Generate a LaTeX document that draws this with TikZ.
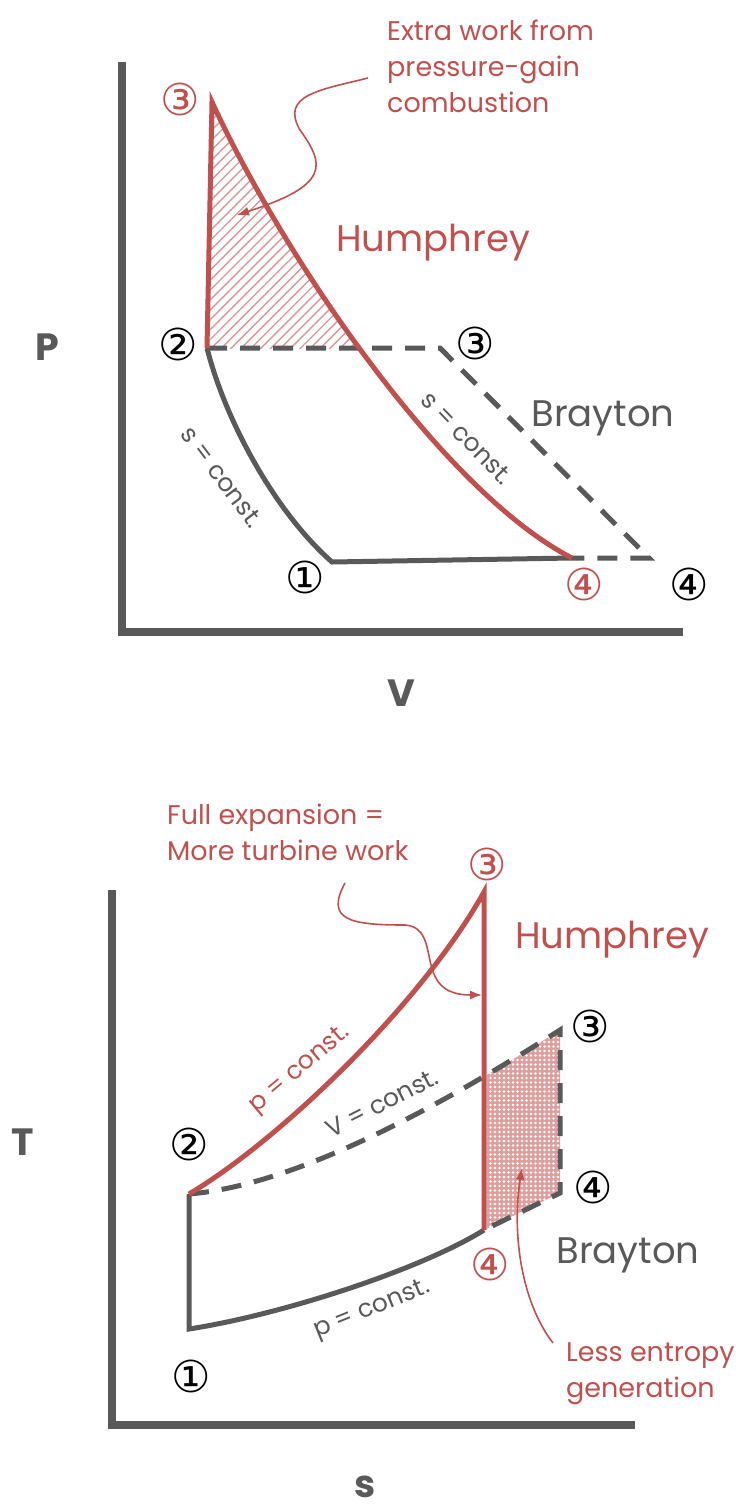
\documentclass[tikz,border=0pt]{standalone}
\usepackage{fontspec}
\setmainfont{Poppins}
\newfontfamily\circfont{DejaVu Sans}
\usepackage{xcolor}
\usetikzlibrary{arrows.meta, patterns.meta}
\definecolor{humred}{RGB}{192,80,77}
\definecolor{braygray}{RGB}{89,89,89}

\begin{document}
\begin{tikzpicture}[x=1pt, y=-1pt,
  axisline/.style={line width=8pt, braygray},
  humline/.style={line width=5pt, humred},
  brayline/.style={line width=5pt, braygray},
  braydash/.style={line width=5pt, braygray, dash pattern=on 20pt off 13pt},
  note/.style={humred, font=\fontsize{27}{36}\selectfont, align=left, anchor=west, inner sep=0pt},
  notearrow/.style={humred, line width=1.6pt, -{Latex[length=12pt,width=9pt]}},
  statenum/.style={font=\circfont\fontsize{44}{44}\selectfont, inner sep=0pt},
  cyclename/.style={font=\fontsize{37}{40}\selectfont},
  curvelabel/.style={font=\fontsize{25}{25}\selectfont, braygray, inner sep=0pt},
  axislabel/.style={font=\bfseries\fontsize{38}{38}\selectfont, braygray}]
  \useasboundingbox (0,0) rectangle (736,1510);

  % ----- Top: P-V diagram -----
  \coordinate (pv1) at (332,562);
  \coordinate (pv2) at (207,348);
  \coordinate (pv3h) at (212,102);
  \coordinate (pv4h) at (572,558);
  \coordinate (pv3b) at (440,348);
  \coordinate (pv4b) at (649,558);

  % Extra work area (hatched)
  \begin{scope}
    \clip (0,0) rectangle (736,348);
    \fill[pattern={Lines[angle=45, distance=7pt, line width=1.4pt]}, pattern color=humred!60]
      (pv2) -- (pv3h) .. controls (280,250) and (440,490) .. (pv4h) -- cycle;
  \end{scope}

  % Axes
  \draw[axisline] (122,62) -- (122,632) -- (683,632);

  % Brayton (dashed) and shared legs
  \draw[braydash] (pv2) -- (pv3b) -- (pv4b) -- (pv4h);
  \draw[brayline] (pv2) .. controls (225,420) and (275,512) .. (pv1) -- (pv4h);

  % Humphrey
  \draw[humline] (pv2) -- (pv3h) .. controls (280,250) and (440,490) .. (pv4h);

  \node[statenum, humred] (pvlbl3h) at (180,99) {③};
  \node[statenum] (pvlbl2) at (178,344) {②};
  \node[statenum] (pvlbl3b) at (475,343) {③};
  \node[statenum] (pvlbl1) at (305,577) {①};
  \node[statenum, humred] (pvlbl4h) at (584,584) {④};
  \node[statenum] (pvlbl4b) at (689,584) {④};

  \node[cyclename, humred] (pvhum) at (433,243) {Humphrey};
  \node[cyclename, braygray] (pvbray) at (603,418) {Brayton};
  \node[curvelabel, rotate=-53] (pvisen12) at (222,477) {s = const.};
  \node[curvelabel, rotate=-46] (pvisen34) at (467,438) {s = const.};
  \node[axislabel] (plabel) at (47,347) {P};
  \node[axislabel] (vlabel) at (401,693) {V};

  \node[note] (extrawork) at (387,66) {Extra work from\\pressure-gain\\combustion};
  \coordinate (extrastart) at (368,78);
  \coordinate (extratip) at (237,215);
  \draw[notearrow] (extrastart) .. controls (320,90) and (280,95) .. (300,130)
    .. controls (325,165) and (330,185) .. (extratip);

  % ----- Bottom: T-s diagram -----
  \coordinate (ts1) at (189,1329);
  \coordinate (ts2) at (189,1194);
  \coordinate (ts3h) at (484,892);
  \coordinate (ts4h) at (484,1230);
  \coordinate (ts3b) at (560,1030);
  \coordinate (ts4b) at (560,1193);

  % Less entropy area (dotted)
  \begin{scope}
    \clip (487,0) rectangle (560,1510);
    \fill[humred!55] (ts2) .. controls (300,1185) and (450,1100) .. (ts3b) -- (ts4b) -- (ts4h) -- (189,1240) -- cycle;
    \fill[pattern={Dots[radius=1.3pt, distance=4.5pt]}, pattern color=white]
      (ts2) .. controls (300,1185) and (450,1100) .. (ts3b) -- (ts4b) -- (ts4h) -- (189,1240) -- cycle;
  \end{scope}

  % Axes
  \draw[axisline] (112,890) -- (112,1425) -- (635,1425);

  % Brayton (dashed) and shared legs
  \draw[braydash] (ts2) .. controls (300,1185) and (450,1100) .. (ts3b) -- (ts4b) -- (ts4h);
  \draw[brayline] (ts2) -- (ts1) .. controls (280,1315) and (420,1270) .. (ts4h);

  % Humphrey
  \draw[humline] (ts2) .. controls (280,1140) and (422,1003) .. (ts3h) -- (ts4h);

  \node[statenum, humred] (tslbl3h) at (487,864) {③};
  \node[statenum] (tslbl3b) at (590,1026) {③};
  \node[statenum] (tslbl2) at (189,1144) {②};
  \node[statenum] (tslbl1) at (191,1376) {①};
  \node[statenum, humred] (tslbl4h) at (490,1264) {④};
  \node[statenum] (tslbl4b) at (593,1187) {④};

  \node[cyclename, humred] (tshum) at (612,940) {Humphrey};
  \node[cyclename, braygray] (tsbray) at (628,1255) {Brayton};
  \node[curvelabel, humred, rotate=40] (tsisop23) at (300,1070) {p = const.};
  \node[curvelabel, rotate=27] (tsisov) at (382,1103) {V = const.};
  \node[curvelabel, rotate=22] (tsisop14) at (372,1310) {p = const.};
  \node[axislabel] (tlabel) at (23,1142) {T};
  \node[axislabel] (slabel) at (365,1487) {s};

  \node[note] (fullexp) at (167,832) {Full expansion =\\More turbine work};
  \coordinate (fullstart) at (345,883);
  \coordinate (fulltip) at (482,995);
  \draw[notearrow] (fullstart) .. controls (325,920) and (350,925) .. (405,925)
    .. controls (445,928) and (410,995) .. (fulltip);

  \node[note] (lessent) at (566,1374) {Less entropy\\generation};
  \coordinate (lessstart) at (553,1343);
  \coordinate (lesstip) at (522,1168);
  \draw[notearrow] (lessstart) .. controls (520,1300) and (512,1230) .. (lesstip);
\end{tikzpicture}
\end{document}
